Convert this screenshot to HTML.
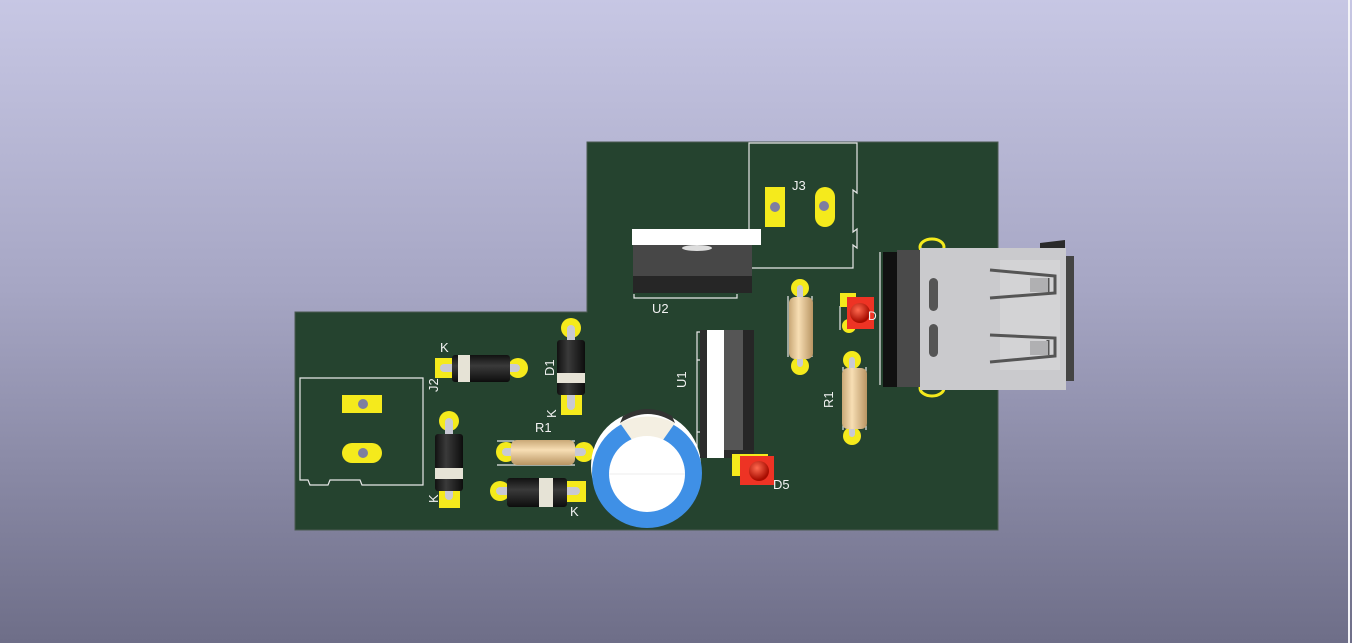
<!DOCTYPE html>
<html><head><meta charset="utf-8"><style>
html,body{margin:0;padding:0;width:1352px;height:643px;overflow:hidden}
body{background:linear-gradient(#c7c7e4 0%,#a6a6c4 45%,#6e6e88 100%)}
svg{position:absolute;left:0;top:0}
text{font-family:"Liberation Sans",sans-serif;font-size:13px;fill:#f2f2f2}
</style></head><body>
<svg width="1352" height="643" viewBox="0 0 1352 643">
<defs>
<linearGradient id="res" x1="0" y1="0" x2="0" y2="1"><stop offset="0" stop-color="#c9a877"/><stop offset=".4" stop-color="#f7deb4"/><stop offset="1" stop-color="#b99563"/></linearGradient>
<linearGradient id="resv" x1="0" y1="0" x2="1" y2="0"><stop offset="0" stop-color="#c9a877"/><stop offset=".4" stop-color="#f7deb4"/><stop offset="1" stop-color="#b99563"/></linearGradient>
<linearGradient id="dh" x1="0" y1="0" x2="0" y2="1"><stop offset="0" stop-color="#111"/><stop offset=".4" stop-color="#3a3a3a"/><stop offset="1" stop-color="#0d0d0d"/></linearGradient>
<linearGradient id="dv" x1="0" y1="0" x2="1" y2="0"><stop offset="0" stop-color="#111"/><stop offset=".4" stop-color="#3a3a3a"/><stop offset="1" stop-color="#0d0d0d"/></linearGradient>
<radialGradient id="led" cx=".4" cy=".35" r=".6"><stop offset="0" stop-color="#ff6a50"/><stop offset="1" stop-color="#a80c00"/></radialGradient>
</defs>
<rect x="1348" y="0" width="2" height="643" fill="#f4f4f8"/>
<path d="M587 142H998V530H295V312H587Z" fill="#25432f" stroke="#4a5a50" stroke-width="1"/>
<g fill="none" stroke="#e8e8e8" stroke-width="1.2">
<path d="M300 378H423V485H362L360 480H330L328 485H310L308 480H300Z"/>
<path d="M749 143H857V193L853 190V232L857 229V248L853 245V268H749Z"/>
<path d="M700 332H697V458H700M697 360H700M697 432H700"/>
<path d="M634 294V298H737V294"/>
<path d="M788 296V357M812 296V357M840 306V330M843 367V430M866 367V430M880 252V385"/>
<path d="M497 441H575M497 465H575M508 484H568"/>
</g>
<rect x="342" y="395" width="40" height="18" fill="#f5ea1c"/><circle cx="363" cy="404" r="5" fill="#7e7ea0"/>
<rect x="342" y="443" width="40" height="20" rx="10" fill="#f5ea1c"/><circle cx="363" cy="453" r="5" fill="#7e7ea0"/>
<rect x="765" y="187" width="20" height="40" fill="#f5ea1c"/><circle cx="775" cy="207" r="5" fill="#7e7ea0"/>
<rect x="815" y="187" width="20" height="40" rx="10" fill="#f5ea1c"/><circle cx="824" cy="206" r="5" fill="#7e7ea0"/>
<text x="792" y="190">J3</text>
<rect x="435" y="358" width="20" height="20" fill="#f5ea1c"/><circle cx="518" cy="368" r="10" fill="#f5ea1c"/>
<rect x="440" y="364" width="80" height="8" rx="4" fill="#c9c9d4"/>
<rect x="452" y="355" width="58" height="27" rx="3" fill="url(#dh)"/><rect x="458" y="355" width="12" height="27" fill="#e6e3d6"/>
<text x="440" y="352">K</text>
<circle cx="571" cy="328" r="10" fill="#f5ea1c"/><rect x="561" y="395" width="21" height="20" fill="#f5ea1c"/>
<rect x="567" y="325" width="8" height="85" rx="4" fill="#c9c9d4"/>
<rect x="557" y="340" width="28" height="55" rx="3" fill="url(#dv)"/><rect x="557" y="373" width="28" height="10" fill="#e6e3d6"/>
<text transform="translate(554,376) rotate(-90)">D1</text>
<text transform="translate(556,418) rotate(-90)">K</text>
<text transform="translate(438,392) rotate(-90)">J2</text>
<circle cx="449" cy="421" r="10" fill="#f5ea1c"/><rect x="439" y="488" width="21" height="20" fill="#f5ea1c"/>
<rect x="445" y="418" width="8" height="82" rx="4" fill="#c9c9d4"/>
<rect x="435" y="434" width="28" height="57" rx="3" fill="url(#dv)"/><rect x="435" y="468" width="28" height="11" fill="#e6e3d6"/>
<text transform="translate(438,503) rotate(-90)">K</text>
<circle cx="506" cy="452" r="10" fill="#f5ea1c"/><circle cx="584" cy="452" r="10" fill="#f5ea1c"/>
<rect x="502" y="448" width="84" height="8" rx="4" fill="#c9c9d4"/>
<rect x="511" y="440" width="64" height="25" rx="6" fill="url(#res)"/>
<text x="535" y="432">R1</text>
<circle cx="500" cy="491" r="10" fill="#f5ea1c"/><rect x="565" y="481" width="21" height="21" fill="#f5ea1c"/>
<rect x="496" y="487" width="84" height="8" rx="4" fill="#c9c9d4"/>
<rect x="507" y="478" width="60" height="29" rx="3" fill="url(#dh)"/><rect x="539" y="478" width="14" height="29" fill="#e6e3d6"/>
<text x="570" y="516">K</text>
<circle cx="646" cy="466" r="55" fill="#fff"/>
<circle cx="647" cy="473" r="55" fill="#3f90e6"/>
<path d="M620 423Q648 410 675 423L663 440H632Z" fill="#f4efe2"/>
<path d="M620 423Q648 405 675 423L672 416Q648 402 623 416Z" fill="#333"/>
<circle cx="647" cy="474" r="38" fill="#fff"/>
<line x1="609" y1="474" x2="685" y2="474" stroke="#ddd" stroke-width="0.6"/>
<rect x="700" y="330" width="54" height="128" fill="#2c2c2c"/>
<rect x="707" y="330" width="17" height="128" fill="#fff"/>
<rect x="724" y="330" width="19" height="120" fill="#555"/>
<rect x="743" y="330" width="11" height="120" fill="#262626"/>
<text transform="translate(686,388) rotate(-90)">U1</text>
<rect x="632" y="229" width="129" height="16" fill="#fff"/>
<rect x="633" y="245" width="119" height="48" fill="#474747"/>
<rect x="633" y="276" width="119" height="17" fill="#262626"/>
<ellipse cx="697" cy="248" rx="15" ry="3" fill="#ddd"/>
<text x="652" y="313">U2</text>
<circle cx="800" cy="288" r="9" fill="#f5ea1c"/><circle cx="800" cy="366" r="9" fill="#f5ea1c"/>
<rect x="797" y="285" width="6" height="82" rx="3" fill="#c9c9d4"/>
<rect x="789" y="297" width="24" height="62" rx="6" fill="url(#resv)"/>
<rect x="840" y="293" width="16" height="14" fill="#f5ea1c"/><circle cx="849" cy="326" r="7" fill="#f5ea1c"/>
<rect x="847" y="297" width="27" height="32" fill="#ee3324"/><circle cx="860" cy="313" r="10" fill="url(#led)"/>
<text x="868" y="320" style="font-size:12px">D</text>
<circle cx="852" cy="360" r="9" fill="#f5ea1c"/><circle cx="852" cy="436" r="9" fill="#f5ea1c"/>
<rect x="849" y="357" width="6" height="80" rx="3" fill="#c9c9d4"/>
<rect x="842" y="368" width="25" height="61" rx="6" fill="url(#resv)"/>
<text transform="translate(833,408) rotate(-90)">R1</text>
<rect x="732" y="454" width="36" height="22" fill="#f5ea1c"/>
<rect x="740" y="456" width="34" height="29" fill="#ee3324"/><circle cx="759" cy="471" r="10" fill="url(#led)"/>
<text x="773" y="489">D5</text>
<ellipse cx="932" cy="247" rx="12" ry="8" fill="none" stroke="#f5ea1c" stroke-width="3"/>
<ellipse cx="932" cy="388" rx="12" ry="8" fill="none" stroke="#f5ea1c" stroke-width="3"/>
<path d="M1040 243L1065 240V390L1040 387Z" fill="#2a2a2a"/>
<rect x="883" y="252" width="40" height="135" fill="#111"/>
<rect x="897" y="250" width="25" height="137" fill="#4a4a4a"/>
<rect x="920" y="248" width="146" height="142" fill="#cacacd"/>
<rect x="1000" y="260" width="60" height="110" fill="#d3d3d5"/>
<rect x="1066" y="256" width="8" height="125" fill="#444"/>
<rect x="929" y="278" width="9" height="33" rx="4.5" fill="#555"/>
<rect x="929" y="324" width="9" height="33" rx="4.5" fill="#555"/>
<g fill="none" stroke="#555" stroke-width="3">
<path d="M990 270L1055 276V293L990 298M1048 278V292"/>
<path d="M990 335L1055 338V356L990 362M1048 340V355"/>
</g>
<rect x="1030" y="278" width="18" height="14" fill="#b0b0b2"/>
<rect x="1030" y="341" width="18" height="14" fill="#b0b0b2"/>
</svg>
</body></html>
